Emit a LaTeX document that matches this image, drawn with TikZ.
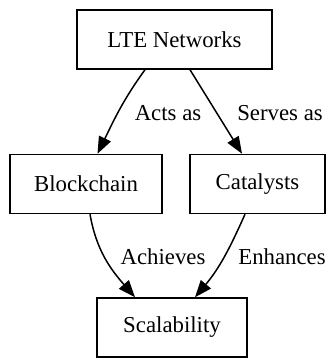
\documentclass[tikz,border=0pt]{standalone}
\usepackage{fontspec}
\setmainfont{Liberation Serif}
\usetikzlibrary{arrows.meta}

\begin{document}
\begin{tikzpicture}[x=0.5pt,y=0.5pt,
  box/.style={draw,line width=0.75pt,inner sep=0pt,minimum height=29.5pt},
  link/.style={line width=0.75pt,-{Triangle[length=8.5pt,width=6.5pt]}},
  font=\fontsize{11.4}{13}\selectfont]
\useasboundingbox (0,0) rectangle (327,358);
\node[box,minimum width=97.5pt] (lte) at (174.5,318.5) {LTE Networks};
\node[box,minimum width=76pt] (block) at (86,174) {Blockchain};
\node[box,minimum width=67.5pt] (cat) at (257.5,174) {Catalysts};
\node[box,minimum width=75pt] (scal) at (172,30.5) {Scalability};
\draw[link] ([xshift=-14.75pt]lte.south) to[out=234,in=64] ([xshift=5.75pt]block.north);
\draw[link] ([xshift=7.75pt]lte.south) -- ([xshift=-7.75pt]cat.north);
\draw[link] ([xshift=2pt]block.south) to[out=-80,in=131] ([xshift=-18.5pt]scal.north);
\draw[link] ([xshift=-6.25pt]cat.south) to[out=246,in=50] ([xshift=11.5pt]scal.north);
\node (actsas) at (168,245) {Acts as};
\node (servesas) at (280,245) {Serves as};
\node (achieves) at (163,101) {Achieves};
\node (enhances) at (282,101) {Enhances};
\end{tikzpicture}
\end{document}
